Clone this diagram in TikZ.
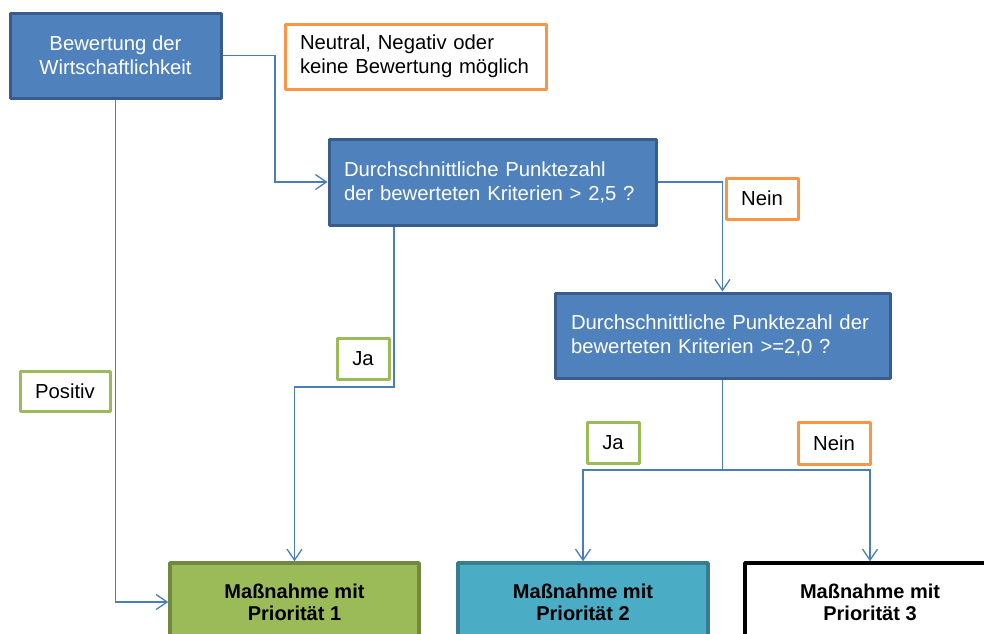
\documentclass[tikz,border=0pt]{standalone}
\usepackage{fontspec}
\setmainfont{Liberation Sans}
\usetikzlibrary{arrows.meta}
\definecolor{bluefill}{HTML}{4F81BD}
\definecolor{blueborder}{HTML}{385D8A}
\definecolor{orangeb}{HTML}{F79646}
\definecolor{greenb}{HTML}{9BBB59}
\definecolor{greenborder}{HTML}{71893F}
\definecolor{aquafill}{HTML}{4BACC6}
\definecolor{aquaborder}{HTML}{357D91}
\definecolor{connc}{HTML}{4A7EBB}
\tikzset{
  base/.style={rectangle, inner sep=0pt, line join=round, font=\fontsize{20.3}{24}\selectfont},
  bluebox/.style={base, draw=blueborder, fill=bluefill, line width=3pt, text=white},
  lbl/.style={base, draw=#1, fill=white, line width=3pt, text=black, align=center},
  prio/.style={base, line width=3.5pt, text=black, align=center, font=\fontsize{20}{22}\selectfont\bfseries},
  conn/.style={draw=connc, line width=1.3pt},
  arr/.style={conn, -{Straight Barb[length=11pt,width=15pt,line width=1.3pt]}}
}
\begin{document}
\begin{tikzpicture}[x=1pt,y=-1pt]
\clip (0,0) rectangle (984,633);
\fill[white] (0,0) rectangle (984,633);

% main nodes
\node[bluebox, minimum width=211, minimum height=85, align=center] (A) at (115.5,55.5)
  {Bewertung der\\Wirtschaftlichkeit};
\node[lbl=orangeb, minimum width=261, minimum height=65, text width=231, inner xsep=15pt, align=left] (N0) at (415.5,56.5)
  {Neutral, Negativ oder\\keine Bewertung möglich};
\node[bluebox, minimum width=327, minimum height=86, text width=297, inner xsep=15pt, align=left] (B) at (492.5,182)
  {Durchschnittliche Punktezahl\\der bewerteten Kriterien > 2,5 ?};
\node[bluebox, minimum width=335, minimum height=85, text width=303, inner xsep=16pt, align=left] (C) at (722.5,335.5)
  {Durchschnittliche Punktezahl der\\bewerteten Kriterien >=2,0 ?};

% labels
\node[lbl=orangeb, minimum width=72, minimum height=41] (nein1) at (762,198.5) {Nein};
\node[lbl=greenb, minimum width=52, minimum height=41] (ja1) at (363,358.5) {Ja};
\node[lbl=greenb, minimum width=90, minimum height=40] (pos) at (65,391) {Positiv};
\node[lbl=greenb, minimum width=52, minimum height=41] (ja2) at (613,442.5) {Ja};
\node[lbl=orangeb, minimum width=72, minimum height=42] (nein2) at (834,443) {Nein};

% priority boxes
\node[prio, draw=greenborder, fill=greenb, minimum width=249, minimum height=78] (P1) at (294.5,602)
  {Maßnahme mit\\Priorität 1};
\node[prio, draw=aquaborder, fill=aquafill, minimum width=250, minimum height=78] (P2) at (583,602)
  {Maßnahme mit\\Priorität 2};
\node[prio, draw=black, fill=white, minimum width=250, minimum height=78] (P3) at (870,602)
  {Maßnahme mit\\Priorität 3};

% bend coordinates
\coordinate (k1) at (275,0);
\coordinate (bx) at (394,0);
\coordinate (k2) at (0,387);
\coordinate (k3) at (0,470);

% connectors
\draw[arr] (A.east) -- (k1 |- A.east) -- (k1 |- B.west) -- (B.west);
\draw[arr] (B.east) -| (C.north);
\draw[arr] (bx |- B.south) -- (bx |- k2) -| (P1.north);
\draw[arr] (A.south) |- (P1.west);
\draw[conn] (C.south) -- (C.south |- k3);
\draw[arr] (C.south |- k3) -| (P2.north);
\draw[arr] (C.south |- k3) -| (P3.north);
\end{tikzpicture}
\end{document}
